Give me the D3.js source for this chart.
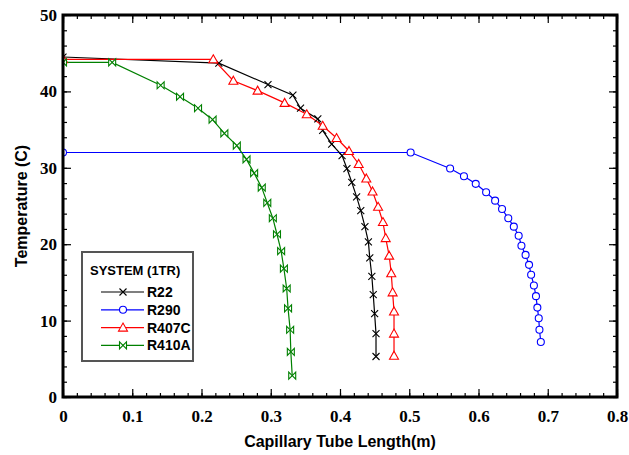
<!DOCTYPE html>
<html lang="en">
<head>
    <meta charset="UTF-8">
    <title>Capillary Tube Length vs Temperature</title>
    <script src="https://d3js.org/d3.v7.min.js"></script>
    <style>
        body {
            margin: 0;
            background-color: #fff;
        }
        svg {
            display: block;
        }
        .axis-label {
            font-family: "Liberation Sans", Arial, sans-serif;
            font-weight: bold;
            font-size: 16px;
        }
        .legend text {
            font-family: "Liberation Sans", Arial, sans-serif;
            font-weight: bold;
            font-size: 14px;
        }
    </style>
</head>
<body>
    <div id="chart"></div>
    <script>
        // values
        const r22Length = [0, 0.225, 0.296, 0.332, 0.343, 0.368, 0.375, 0.388, 0.403, 0.410, 0.417, 0.424, 0.430, 0.436, 0.441, 0.443, 0.446, 0.448, 0.450, 0.452, 0.452];
        const r22Temp = [44.5, 43.7, 40.9, 39.5, 37.8, 36.4, 34.9, 33.1, 31.6, 29.9, 28.1, 26.2, 24.4, 22.3, 20.3, 18.2, 15.8, 13.4, 10.9, 8.3, 5.3];

        const r290Length = [0, 0.502, 0.559, 0.579, 0.596, 0.611, 0.624, 0.634, 0.643, 0.651, 0.658, 0.662, 0.668, 0.673, 0.676, 0.680, 0.683, 0.685, 0.687, 0.688, 0.690];
        const r290Temp = [32.0, 32.0, 29.9, 28.9, 27.9, 26.8, 25.7, 24.6, 23.4, 22.3, 21.1, 19.8, 18.6, 17.3, 16.0, 14.6, 13.2, 11.7, 10.3, 8.8, 7.2];

        const r407cLength = [0, 0.217, 0.246, 0.281, 0.320, 0.352, 0.375, 0.395, 0.413, 0.427, 0.438, 0.447, 0.455, 0.462, 0.466, 0.471, 0.474, 0.476, 0.478, 0.478, 0.478];
        const r407cTemp = [44.2, 44.2, 41.4, 40.1, 38.5, 37.0, 35.5, 33.9, 32.2, 30.5, 28.6, 26.9, 24.9, 22.9, 20.8, 18.5, 16.2, 13.7, 11.2, 8.3, 5.4];

        const r410aLength = [0, 0.071, 0.141, 0.169, 0.195, 0.216, 0.233, 0.251, 0.265, 0.276, 0.287, 0.295, 0.303, 0.309, 0.315, 0.319, 0.323, 0.325, 0.328, 0.329, 0.331];
        const r410aTemp = [43.8, 43.8, 40.8, 39.3, 37.8, 36.3, 34.5, 32.9, 31.1, 29.3, 27.4, 25.4, 23.4, 21.3, 19.1, 16.8, 14.2, 11.6, 8.8, 5.9, 2.8];

        const seriesNames = ["R22", "R290", "R407C", "R410A"];
        const seriesColors = ["#000000", "#0000ff", "#ff0000", "#008000"];

        const xTicks = [0, 0.1, 0.2, 0.3, 0.4, 0.5, 0.6, 0.7, 0.8];
        const xTickLabels = ["0", "0.1", "0.2", "0.3", "0.4", "0.5", "0.6", "0.7", "0.8"];
        const yTicks = [0, 10, 20, 30, 40, 50];
        const yTickLabels = ["0", "10", "20", "30", "40", "50"];

        const series = [
            { name: "R22", x: r22Length, y: r22Temp },
            { name: "R290", x: r290Length, y: r290Temp },
            { name: "R407C", x: r407cLength, y: r407cTemp },
            { name: "R410A", x: r410aLength, y: r410aTemp }
        ];

        const margin = { top: 15, right: 12, bottom: 58, left: 63 };
        const width = 629 - margin.left - margin.right;
        const height = 455 - margin.top - margin.bottom;

        const svg = d3.select("#chart")
            .append("svg")
            .attr("width", 629)
            .attr("height", 455)
            .append("g")
            .attr("transform", `translate(${margin.left}, ${margin.top})`);

        const x = d3.scaleLinear().domain([0, 0.8]).range([0, width]);
        const y = d3.scaleLinear().domain([0, 50]).range([height, 0]);

        const color = d3.scaleOrdinal().domain(seriesNames).range(seriesColors);

        const xMinor = d3.range(0, 0.8001, 0.02).map(d => +d.toFixed(2));
        const yMinor = d3.range(0, 50.001, 2);

        // minor ticks, all four sides, pointing inward
        svg.append("g").attr("transform", `translate(0, ${height})`)
            .call(d3.axisBottom(x).tickValues(xMinor).tickSizeInner(-4).tickSizeOuter(0).tickFormat(""));
        svg.append("g")
            .call(d3.axisTop(x).tickValues(xMinor).tickSizeInner(-4).tickSizeOuter(0).tickFormat(""));
        svg.append("g")
            .call(d3.axisLeft(y).tickValues(yMinor).tickSizeInner(-4).tickSizeOuter(0).tickFormat(""));
        svg.append("g").attr("transform", `translate(${width}, 0)`)
            .call(d3.axisRight(y).tickValues(yMinor).tickSizeInner(-4).tickSizeOuter(0).tickFormat(""));

        // major ticks with labels
        svg.append("g").attr("class", "labelled").attr("transform", `translate(0, ${height})`)
            .call(d3.axisBottom(x).tickValues(xTicks).tickSizeInner(-8).tickSizeOuter(0).tickPadding(13)
                .tickFormat((d, i) => xTickLabels[i]));
        svg.append("g")
            .call(d3.axisTop(x).tickValues(xTicks).tickSizeInner(-8).tickSizeOuter(0).tickFormat(""));
        svg.append("g").attr("class", "labelled")
            .call(d3.axisLeft(y).tickValues(yTicks).tickSizeInner(-8).tickSizeOuter(0).tickPadding(6)
                .tickFormat((d, i) => yTickLabels[i]));
        svg.append("g").attr("transform", `translate(${width}, 0)`)
            .call(d3.axisRight(y).tickValues(yTicks).tickSizeInner(-8).tickSizeOuter(0).tickFormat(""));

        svg.selectAll(".domain").remove();
        svg.selectAll(".tick line").attr("stroke", "#000").attr("stroke-width", 1.2);
        svg.selectAll(".labelled")
            .attr("font-family", "'Liberation Serif', 'Times New Roman', serif")
            .attr("font-size", 17)
            .attr("font-weight", "bold");
        svg.selectAll(".labelled text").attr("fill", "#000");

        svg.append("defs").append("clipPath").attr("id", "plot-clip")
            .append("rect").attr("width", width).attr("height", height);

        const plot = svg.append("g").attr("clip-path", "url(#plot-clip)");

        const line = d3.line()
            .x(d => x(d[0]))
            .y(d => y(d[1]));

        function marker(g, name, c) {
            if (name === "R22") {
                g.append("path").attr("d", "M-3.5,-3.5L3.5,3.5M-3.5,3.5L3.5,-3.5")
                    .attr("stroke", c).attr("stroke-width", 1.1).attr("fill", "none");
            } else if (name === "R290") {
                g.append("circle").attr("r", 3.5)
                    .attr("stroke", c).attr("stroke-width", 1.1).attr("fill", "#fff");
            } else if (name === "R407C") {
                g.append("path").attr("d", "M0,-4.5L4.5,3.5L-4.5,3.5Z")
                    .attr("stroke", c).attr("stroke-width", 1.1).attr("fill", "#fff");
            } else {
                g.append("path").attr("d", "M-3.5,-3.5L-3.5,3.5L3.5,-3.5L3.5,3.5Z")
                    .attr("stroke", c).attr("stroke-width", 1.1).attr("fill", "#fff");
            }
        }

        series.forEach(s => {
            const pts = s.x.map((v, i) => [v, s.y[i]]);
            plot.append("path")
                .datum(pts)
                .attr("d", line)
                .attr("fill", "none")
                .attr("stroke", color(s.name))
                .attr("stroke-width", 1.2);
        });

        series.forEach(s => {
            s.x.forEach((v, i) => {
                const g = plot.append("g")
                    .attr("transform", `translate(${x(v)}, ${y(s.y[i])})`);
                marker(g, s.name, color(s.name));
            });
        });

        // frame
        svg.append("rect")
            .attr("width", width)
            .attr("height", height)
            .attr("fill", "none")
            .attr("stroke", "#000")
            .attr("stroke-width", 3);

        svg.append("text")
            .attr("class", "axis-label")
            .attr("x", width / 2)
            .attr("y", height + 50)
            .attr("text-anchor", "middle")
            .text("Capillary Tube Length(m)");

        svg.append("text")
            .attr("class", "axis-label")
            .attr("transform", "rotate(-90)")
            .attr("x", -191)
            .attr("y", -36)
            .attr("text-anchor", "middle")
            .text("Temperature (C)");

        // legend
        const legend = svg.append("g").attr("class", "legend")
            .attr("transform", "translate(19, 237)");

        legend.append("rect")
            .attr("width", 111)
            .attr("height", 109)
            .attr("fill", "#fff")
            .attr("stroke", "#555")
            .attr("stroke-width", 2);

        legend.append("text")
            .attr("x", 8)
            .attr("y", 23)
            .style("font-size", "13px")
            .text("SYSTEM (1TR)");

        seriesNames.forEach((name, i) => {
            const yy = 40 + i * 17.8;
            legend.append("line")
                .attr("x1", 19).attr("x2", 62)
                .attr("y1", yy).attr("y2", yy)
                .attr("stroke", color(name))
                .attr("stroke-width", 1.2);
            const g = legend.append("g").attr("transform", `translate(41, ${yy})`);
            marker(g, name, color(name));
            legend.append("text")
                .attr("x", 65)
                .attr("y", yy + 5)
                .text(name);
        });
    </script>
</body>
</html>
